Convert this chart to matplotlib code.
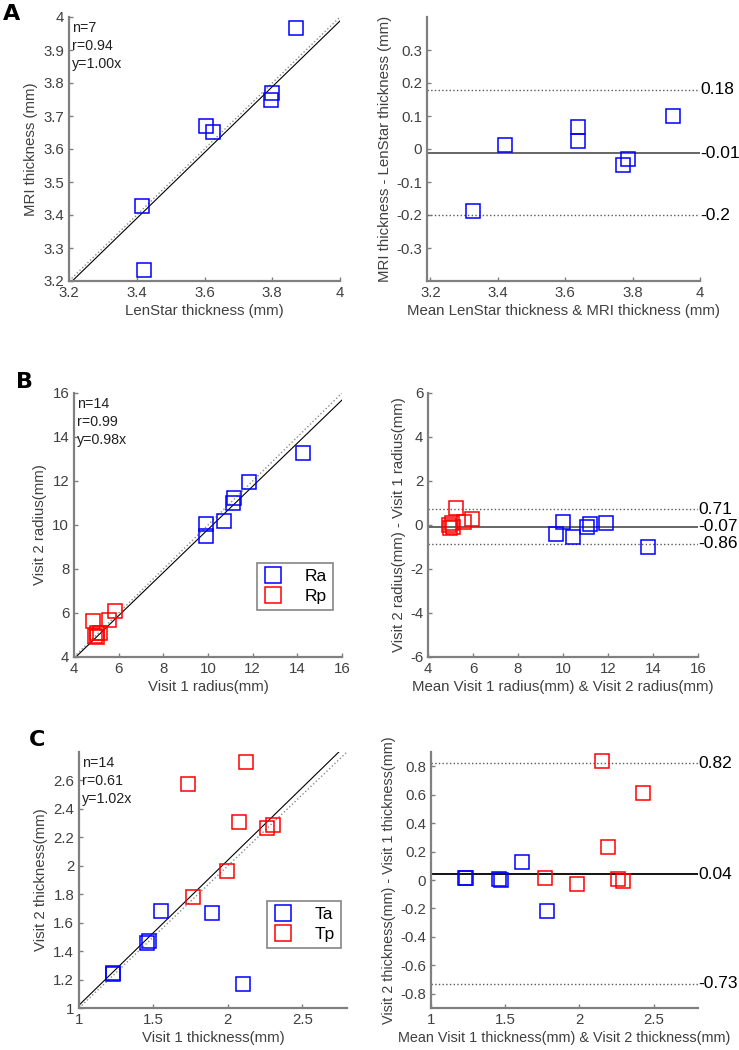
import numpy as np
import matplotlib
matplotlib.use('Agg')
import matplotlib.pyplot as plt
import matplotlib.transforms as mtransforms

plt.rcParams['font.family'] = ['Liberation Sans', 'DejaVu Sans']
plt.rcParams['axes.unicode_minus'] = False

## panel A: LenStar vs MRI thickness (mm)
a_lenstar = [3.415, 3.422, 3.604, 3.626, 3.800, 3.796, 3.869]
a_mri     = [3.428, 3.233, 3.670, 3.651, 3.771, 3.748, 3.968]

## panel B: radius visit 1 / visit 2 (mm)
ra_v1 = [14.27, 11.85, 11.18, 11.10, 10.72, 9.91, 9.91]
ra_v2 = [13.26, 11.94, 11.21, 10.99, 10.18, 10.05, 9.51]
rp_v1 = [4.87, 5.84, 5.55, 5.02, 4.95, 5.16, 5.05]
rp_v2 = [5.62, 6.10, 5.67, 5.10, 4.95, 5.08, 4.90]

## panel C: thickness visit 1 / visit 2 (mm)
ta_v1 = [1.225, 1.23, 1.455, 1.47, 1.55, 1.89, 2.10]
ta_v2 = [1.24, 1.245, 1.46, 1.47, 1.68, 1.67, 1.17]
tp_v1 = [1.735, 2.122, 2.077, 2.26, 2.30, 1.996, 1.763]
tp_v2 = [2.573, 2.732, 2.310, 2.268, 2.29, 1.966, 1.778]

## fit slopes and stats text
fit_slopes = [0.997, 0.98, 1.02]
stats_text = ['n=7\nr=0.94\ny=1.00x', 'n=14\nr=0.99\ny=0.98x', 'n=14\nr=0.61\ny=1.02x']

## Bland-Altman: upper limit, mean difference, lower limit
ba_lines  = [[0.18, -0.013, -0.2], [0.71, -0.07, -0.86], [0.82, 0.04, -0.73]]
ba_labels = [['0.18', '-0.01', '-0.2'], ['0.71', '-0.07', '-0.86'], ['0.82', '0.04', '-0.73']]

W, H = 739, 1050
fig = plt.figure(figsize=(W / 100, H / 100), dpi=100)

GREY = '#808080'
TXT = '#404040'
LBL = 10.8


def add_ax(x0, y0, x1, y1):
    ax = fig.add_axes([x0 / W, 1 - y1 / H, (x1 - x0) / W, (y1 - y0) / H])
    for s in ['top', 'right']:
        ax.spines[s].set_visible(False)
    for s in ['left', 'bottom']:
        ax.spines[s].set_color(GREY)
        ax.spines[s].set_linewidth(1.6)
    ax.tick_params(direction='in', length=3, width=1, color=GREY,
                   labelcolor=TXT, labelsize=10.8)
    return ax


def fmt(v):
    return '%g' % (round(v, 3) + 0.0)


def set_ticks(ax, xt, yt):
    xt = [round(v, 3) + 0.0 for v in xt]
    yt = [round(v, 3) + 0.0 for v in yt]
    ax.set_xticks(xt)
    ax.set_xticklabels([fmt(v) for v in xt])
    ax.set_yticks(yt)
    ax.set_yticklabels([fmt(v) for v in yt])


def scatter_panel(ax, groups, lim, slope, text):
    xs = np.array(lim)
    ax.plot(xs, xs, ':', color='0.55', lw=1, zorder=1)
    ax.plot(xs, slope * xs, '-', color='k', lw=0.8, zorder=1)
    for x, y, c, lab in groups:
        ax.plot(x, y, 's', mfc='none', mec=c, mew=1.1, ms=10, label=lab, zorder=3)
    ax.set_xlim(lim)
    ax.set_ylim(lim)
    ax.text(0.012, 0.985, text, transform=ax.transAxes, va='top', ha='left',
            fontsize=10.3, linespacing=1.35, color='#202020')


def ba_panel(ax, groups, xlim, ylim, lines, labels, mean_color):
    for x, y, c in groups:
        x = np.array(x); y = np.array(y)
        m = (x + y) / 2
        d = y - x
        keep = (d > ylim[0]) & (d < ylim[1])  # points outside the limits are not shown
        ax.plot(m[keep], d[keep], 's', mfc='none', mec=c, mew=1.1, ms=10, zorder=3)
    ax.axhline(lines[0], color='0.35', ls=':', lw=1)
    ax.axhline(lines[1], color=mean_color, ls='-', lw=1.3)
    ax.axhline(lines[2], color='0.35', ls=':', lw=1)
    tr = mtransforms.blended_transform_factory(ax.transAxes, ax.transData)
    for v, s in zip(lines, labels):
        ax.text(1.0, v, s, transform=tr, ha='left', va='center', fontsize=12.5, color='k')
    ax.set_xlim(xlim)
    ax.set_ylim(ylim)


def legend(ax, x0, y0):
    leg = ax.legend(loc='upper left', bbox_to_anchor=(x0 / W, 1 - y0 / H),
                    bbox_transform=fig.transFigure, fontsize=12.5, frameon=True,
                    fancybox=False, edgecolor='0.4', borderaxespad=0,
                    handlelength=1.2, handletextpad=1.2, borderpad=0.35,
                    labelspacing=0.25, markerscale=1.1)
    leg.get_frame().set_linewidth(1.2)


## ---- A ----
ax = add_ax(69, 17, 340, 281)
scatter_panel(ax, [(a_lenstar, a_mri, 'b', None)], [3.2, 4.0], fit_slopes[0], stats_text[0])
set_ticks(ax, np.arange(3.2, 4.01, 0.2), np.arange(3.2, 4.01, 0.1))
ax.set_xlabel('LenStar thickness (mm)', fontsize=LBL, color=TXT, labelpad=3)
ax.set_ylabel('MRI thickness (mm)', fontsize=LBL, color=TXT, labelpad=4)

ax = add_ax(427, 17, 700, 281)
ba_panel(ax, [(a_lenstar, a_mri, 'b')], [3.19, 4.0], [-0.4, 0.4], ba_lines[0], ba_labels[0], '0.35')
set_ticks(ax, np.arange(3.2, 4.01, 0.2), np.arange(-0.3, 0.31, 0.1))
ax.set_xlabel('Mean LenStar thickness & MRI thickness (mm)', fontsize=LBL, color=TXT, labelpad=3)
ax.set_ylabel('MRI thickness - LenStar thickness (mm)', fontsize=LBL, color=TXT, labelpad=3)

## ---- B ----
ax = add_ax(74, 393, 342, 657)
scatter_panel(ax, [(ra_v1, ra_v2, 'b', 'Ra'), (rp_v1, rp_v2, 'r', 'Rp')], [4, 16],
              fit_slopes[1], stats_text[1])
set_ticks(ax, np.arange(4, 17, 2), np.arange(4, 17, 2))
ax.set_xlabel('Visit 1 radius(mm)', fontsize=LBL, color=TXT, labelpad=3)
ax.set_ylabel('Visit 2 radius(mm)', fontsize=LBL, color=TXT, labelpad=4)
legend(ax, 257, 563)

ax = add_ax(428, 393, 698, 657)
ba_panel(ax, [(ra_v1, ra_v2, 'b'), (rp_v1, rp_v2, 'r')], [4, 16], [-6, 6],
         ba_lines[1], ba_labels[1], '0.35')
set_ticks(ax, np.arange(4, 17, 2), np.arange(-6, 7, 2))
ax.set_xlabel('Mean Visit 1 radius(mm) & Visit 2 radius(mm)', fontsize=LBL, color=TXT, labelpad=3)
ax.set_ylabel('Visit 2 radius(mm) - Visit 1 radius(mm)', fontsize=LBL, color=TXT, labelpad=3)

## ---- C ----
ax = add_ax(79, 752, 347, 1008)
scatter_panel(ax, [(ta_v1, ta_v2, 'b', 'Ta'), (tp_v1, tp_v2, 'r', 'Tp')], [1, 2.8],
              fit_slopes[2], stats_text[2])
set_ticks(ax, [1, 1.5, 2, 2.5], np.arange(1, 2.61, 0.2))
ax.set_xlabel('Visit 1 thickness(mm)', fontsize=LBL, color=TXT, labelpad=3)
ax.set_ylabel('Visit 2 thickness(mm)', fontsize=LBL, color=TXT, labelpad=4)
legend(ax, 267, 901)

ax = add_ax(431, 752, 698, 1008)
ba_panel(ax, [(ta_v1, ta_v2, 'b'), (tp_v1, tp_v2, 'r')], [1, 2.8], [-0.9, 0.9],
         ba_lines[2], ba_labels[2], 'k')
set_ticks(ax, [1, 1.5, 2, 2.5], np.arange(-0.8, 0.81, 0.2))
ax.set_xlabel('Mean Visit 1 thickness(mm) & Visit 2 thickness(mm)', fontsize=10.4, color=TXT, labelpad=3)
ax.set_ylabel('Visit 2 thickness(mm) - Visit 1 thickness(mm)', fontsize=10.4, color=TXT, labelpad=3)

## panel letters
for s, x, y in [('A', 3, 4), ('B', 16, 372), ('C', 29, 730)]:
    fig.text(x / W, 1 - y / H, s, fontsize=16, fontweight='bold', family='DejaVu Sans',
             va='top', ha='left')

fig.savefig('out.png', dpi=100)
